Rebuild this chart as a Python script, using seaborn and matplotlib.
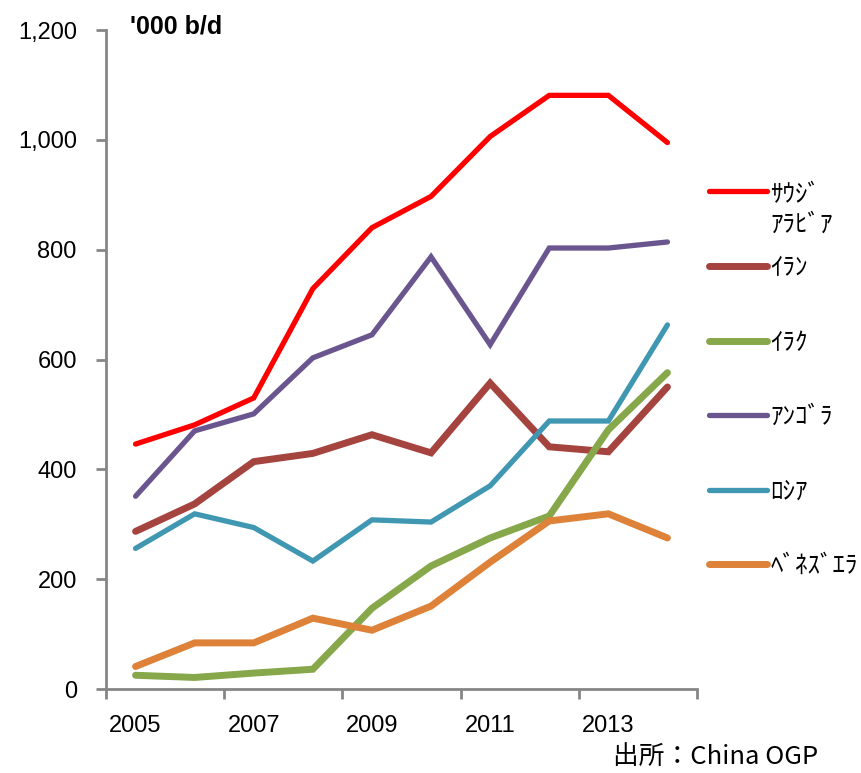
import numpy as np
import pandas as pd
import matplotlib.pyplot as plt
import seaborn as sns
from matplotlib.ticker import FuncFormatter, FixedLocator

# data ('000 b/d)
years = ['2005', '2006', '2007', '2008', '2009', '2010', '2011', '2012', '2013', '2014']
series_names = ['ｻｳｼﾞ\nｱﾗﾋﾞｱ', 'ｲﾗﾝ', 'ｲﾗｸ', 'ｱﾝｺﾞﾗ', 'ﾛｼｱ', 'ﾍﾞﾈｽﾞｴﾗ']
saudi = [446, 481, 530, 729, 840, 897, 1006, 1081, 1081, 995]
iran = [287, 337, 414, 429, 463, 430, 557, 441, 432, 550]
iraq = [25, 21, 29, 36, 147, 224, 275, 315, 472, 576]
angola = [351, 470, 501, 603, 645, 787, 627, 803, 803, 814]
russia = [256, 319, 294, 233, 308, 304, 370, 488, 488, 663]
venezuela = [41, 84, 84, 129, 107, 151, 231, 306, 319, 275]

colors = ['#FF0000', '#A5433F', '#86A74A', '#6B558F', '#4097B1', '#DD8238']
widths = [3.8, 5.0, 5.0, 3.8, 3.8, 5.0]

values = [saudi, iran, iraq, angola, russia, venezuela]
df = pd.DataFrame({
    'pos': np.tile(np.arange(len(years)), len(series_names)),
    'value': np.concatenate(values),
    'country': np.repeat(series_names, len(years)),
})

sns.set_style('white')
plt.rcParams['font.family'] = ['Liberation Sans', 'Noto Sans CJK JP', 'DejaVu Sans']
plt.rcParams['text.color'] = 'black'

fig = plt.figure(figsize=(8.61, 7.73), dpi=100)
ax = fig.add_axes([106 / 861, 1 - 689 / 773, (697 - 106) / 861, (689 - 30) / 773])

for name, c, lw in zip(series_names, colors, widths):
    sub = df[df['country'] == name]
    sns.lineplot(data=sub, x='pos', y='value', color=c, linewidth=lw,
                 label=name, ax=ax, solid_capstyle='round', solid_joinstyle='miter')

ax.set_xlim(-0.5, len(years) - 0.5)
ax.set_ylim(0, 1200)
ax.set_xlabel('')
ax.set_ylabel('')

# ticks between categories, labels every other year
ax.xaxis.set_major_locator(FixedLocator(np.arange(-0.5, len(years), 2)))
ax.xaxis.set_major_formatter(FuncFormatter(lambda v, p: ''))
ax.xaxis.set_minor_locator(FixedLocator(np.arange(0, len(years), 2)))
ax.set_xticklabels([years[i] for i in range(0, len(years), 2)], minor=True)
ax.tick_params(axis='x', which='major', direction='out', length=7, width=2, color='#868686', bottom=True)
ax.tick_params(axis='x', which='minor', length=0, pad=19, labelsize=17, labelcolor='black')

ax.set_yticks(np.arange(0, 1201, 200))
ax.yaxis.set_major_formatter(FuncFormatter(lambda v, p: f'{int(v):,}'))
ax.tick_params(axis='y', direction='out', length=7, width=2, color='#868686', left=True,
               pad=14, labelsize=17, labelcolor='black')

for s in ['top', 'right']:
    ax.spines[s].set_visible(False)
for s in ['left', 'bottom']:
    ax.spines[s].set_color('#868686')
    ax.spines[s].set_linewidth(2)

# legend: wrapped first entry gets its own box so the rest keep even spacing
ax.get_legend().remove()
handles, labels = ax.get_legend_handles_labels()
leg_kw = dict(frameon=False, handlelength=2.3, handletextpad=0.15, borderpad=0, borderaxespad=0,
              prop={'family': ['Noto Sans CJK JP', 'DejaVu Sans'], 'size': 18})
leg1 = fig.legend(handles[:1], labels[:1], loc='upper left',
                  bbox_to_anchor=(709 / 861, 1 - 182 / 773), **leg_kw)
for col in leg1._legend_handle_box.get_children():
    for row in col.get_children():
        row.align = 'top'
fig.legend(handles[1:], labels[1:], loc='upper left',
           bbox_to_anchor=(709 / 861, 1 - 255 / 773), labelspacing=1.94, **leg_kw)

fig.text(130 / 861, 1 - 27 / 773, "'000 b/d", fontsize=18, fontweight='bold', va='center', ha='left')
fig.text(818 / 861, 1 - 757 / 773, '出所：China OGP', fontsize=18.5, va='center', ha='right',
         family=['Noto Sans CJK JP', 'DejaVu Sans'])

plt.savefig('out.png', dpi=100)
